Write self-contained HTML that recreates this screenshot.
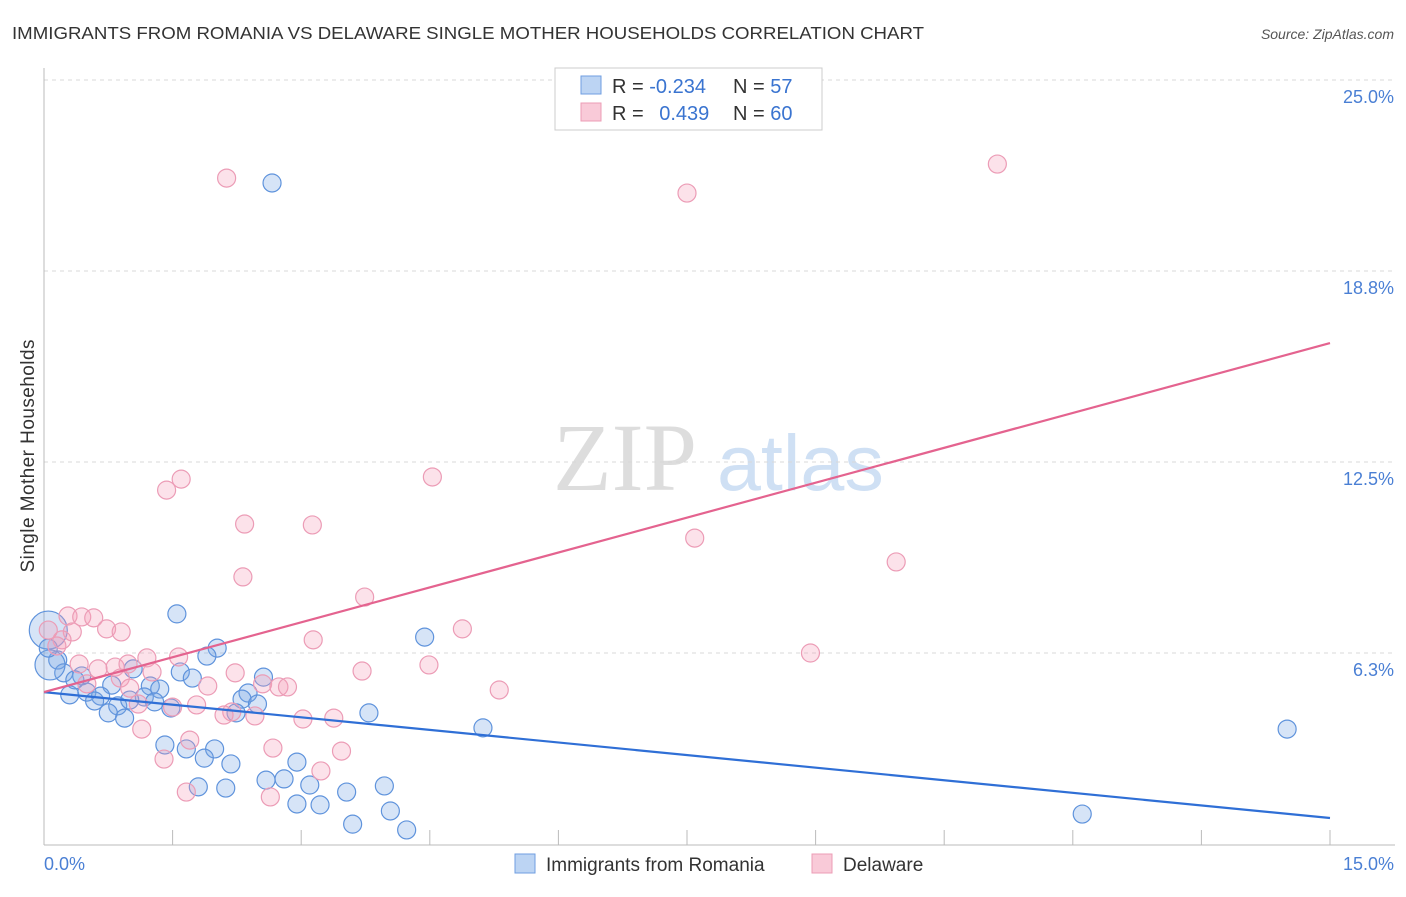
<!DOCTYPE html>
<html><head><meta charset="utf-8"><style>
body{margin:0;background:#fff;font-family:"Liberation Sans",sans-serif;}
svg text{font-family:"Liberation Sans",sans-serif;}
</style></head><body>
<svg width="1406" height="892" xmlns="http://www.w3.org/2000/svg">
<text x="12" y="39" font-size="17.5" fill="#333" textLength="912" lengthAdjust="spacingAndGlyphs">IMMIGRANTS FROM ROMANIA VS DELAWARE SINGLE MOTHER HOUSEHOLDS CORRELATION CHART</text>
<text x="1394" y="39" font-size="14" fill="#555" font-style="italic" text-anchor="end">Source: ZipAtlas.com</text>
<g>
<text x="553" y="490" font-size="96" font-family="Liberation Serif" fill="#ddd" style="font-family:'Liberation Serif',serif">ZIP</text>
<text x="717" y="490" font-size="79" fill="#cfe0f4">atlas</text>
</g>
<g id="grid"></g>
<g id="axes"></g>
<g id="pts"></g>
<g id="lines"></g>
<text x="34" y="456" font-size="19" fill="#333" transform="rotate(-90 34 456)" text-anchor="middle" textLength="233">Single Mother Households</text>
<text x="44" y="870" font-size="18" fill="#4a7fd4">0.0%</text>
<text x="1394" y="870" font-size="18" fill="#4a7fd4" text-anchor="end">15.0%</text>
<g>
<rect x="555" y="68" width="267" height="62" fill="#fff" stroke="#ccc"/>
<rect x="581" y="76" width="20" height="18" fill="#bcd4f3" stroke="#6f9ee0"/>
<rect x="581" y="103" width="20" height="18" fill="#f9cad8" stroke="#ec9cb6"/>
<text x="612" y="93" font-size="20" fill="#333">R = <tspan fill="#3a74d0">-0.234</tspan></text>
<text x="733" y="93" font-size="20" fill="#333">N = <tspan fill="#3a74d0">57</tspan></text>
<text x="612" y="120" font-size="20" fill="#333">R = <tspan fill="#3a74d0" dx="10">0.439</tspan></text>
<text x="733" y="120" font-size="20" fill="#333">N = <tspan fill="#3a74d0">60</tspan></text>
</g>
<g>
<rect x="515" y="854" width="20" height="19" fill="#bcd4f3" stroke="#6f9ee0"/>
<text x="546" y="871" font-size="19" fill="#333">Immigrants from Romania</text>
<rect x="812" y="854" width="20" height="19" fill="#f9cad8" stroke="#ec9cb6"/>
<text x="843" y="871" font-size="19" fill="#333">Delaware</text>
</g>
</svg>
<script>
const yTicks=[6.3,12.5,18.8,25.0];
const yTickVals=[6.25,12.5,18.75,25];
const xTickVals=[1.5,3,4.5,6,7.5,9,10.5,12,13.5,15];
const blueX=[2.66,1.55,4.44,2.02,1.90,0.16,0.23,1.04,1.59,0.44,1.73,2.56,0.79,1.24,1.35,0.30,0.50,0.66,2.38,0.59,0.86,1.17,1.29,1.48,2.31,2.49,2.24,0.75,0.94,3.79,5.12,14.50,1.41,1.66,1.99,1.87,2.18,2.95,2.59,2.80,3.97,1.80,2.12,3.10,3.53,2.95,3.22,4.04,3.60,4.23,12.11,0.05,0.07,0.05,1.0,0.36];
const blueY=[21.63,7.53,6.77,6.41,6.15,6.02,5.60,5.73,5.63,5.50,5.43,5.46,5.20,5.17,5.07,4.88,4.97,4.84,4.94,4.68,4.52,4.81,4.65,4.45,4.74,4.58,4.29,4.29,4.12,4.29,3.80,3.76,3.24,3.11,3.11,2.81,2.62,2.68,2.09,2.13,1.90,1.87,1.83,1.93,1.70,1.31,1.28,1.08,0.65,0.46,0.98,7.00,5.86,6.41,4.71,5.37];
const blueR=[9,9,9,9,9,9,9,9,9,9,9,9,9,9,9,9,9,9,9,9,9,9,9,9,9,9,9,9,9,9,9,9,9,9,9,9,9,9,9,9,9,9,9,9,9,9,9,9,9,9,9,19,15,9,9,9];
const pinkX=[2.13,7.50,11.12,1.60,1.43,4.53,2.34,3.13,7.59,9.94,2.32,3.74,4.88,0.28,0.44,0.58,0.33,0.73,0.90,0.21,3.14,8.94,1.57,1.20,0.41,0.63,0.83,0.98,3.71,4.49,2.23,1.26,0.89,1.91,2.55,2.74,2.84,1.00,5.31,0.50,1.10,1.78,1.50,2.19,2.10,2.46,3.02,3.38,1.14,1.70,2.67,3.47,1.40,3.23,1.66,2.64,0.05,0.15];
const pinkY=[21.79,21.30,22.25,11.94,11.58,12.01,10.47,10.44,10.01,9.23,8.74,8.08,7.04,7.46,7.43,7.40,6.94,7.04,6.94,6.68,6.68,6.25,6.12,6.09,5.89,5.73,5.79,5.89,5.66,5.86,5.60,5.63,5.43,5.17,5.24,5.14,5.14,5.10,5.04,5.24,4.58,4.55,4.48,4.32,4.22,4.19,4.09,4.12,3.76,3.40,3.14,3.04,2.78,2.39,1.70,1.54,7.00,6.48];
const blueTrend=[4.97,0.85];
const pinkTrend=[4.97,16.39];
const X0=44,X1=1330,Y0=844,PPY=191/6.25;
function sx(v){return X0+v/15*(X1-X0);}
function sy(v){return Y0-v*PPY;}
const NS="http://www.w3.org/2000/svg";
function mk(tag,attrs,parent){const e=document.createElementNS(NS,tag);for(const k in attrs)e.setAttribute(k,attrs[k]);parent.appendChild(e);return e;}
const grid=document.getElementById('grid'),axes=document.getElementById('axes'),pts=document.getElementById('pts'),lines=document.getElementById('lines');
yTickVals.forEach((v,i)=>{
const l=mk('line',{x1:44,x2:1395,y1:sy(v),y2:sy(v),stroke:'#d8d8d8','stroke-dasharray':'4,4'},grid);


const t=mk('text',{x:1394,y:sy(v)+23,'font-size':18,fill:'#4a7fd4','text-anchor':'end'},grid);
t.textContent=yTicks[i].toFixed(1)+'%';


});
const ax=mk('line',{x1:44,x2:1395,y1:845,y2:845,stroke:'#bbb'},axes);


const ay=mk('line',{x1:44,x2:44,y1:68,y2:845,stroke:'#bbb'},axes);


xTickVals.forEach(v=>{
const t=mk('line',{x1:sx(v),x2:sx(v),y1:830,y2:845,stroke:'#bbb'},axes);


});
blueX.forEach((v,i)=>{
const c=mk('circle',{cx:sx(v),cy:sy(blueY[i]),r:blueR[i],fill:'rgba(120,165,230,0.3)',stroke:'#5f93dc','stroke-width':1.2},pts);


});
pinkX.forEach((v,i)=>{
const c=mk('circle',{cx:sx(v),cy:sy(pinkY[i]),r:9,fill:'rgba(245,160,185,0.3)',stroke:'#ec9cb6','stroke-width':1.2},pts);


});
const bl=mk('line',{x1:sx(0),y1:sy(blueTrend[0]),x2:sx(15),y2:sy(blueTrend[1]),stroke:'#2f6fd6','stroke-width':2.2},lines);


const pl=mk('line',{x1:sx(0),y1:sy(pinkTrend[0]),x2:sx(15),y2:sy(pinkTrend[1]),stroke:'#e4638f','stroke-width':2.2},lines);


</script>
</body></html>
